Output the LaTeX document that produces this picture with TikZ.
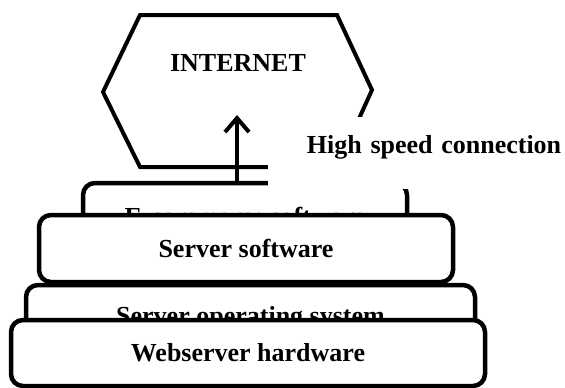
\documentclass[tikz,border=0pt]{standalone}
\usepackage{fontspec}
\setmainfont{Liberation Serif}
\usetikzlibrary{arrows.meta}
\begin{document}
\begin{tikzpicture}[x=1pt, y=-1pt,
		layer/.style={draw=black, fill=white, shape=rectangle, line width=4.5pt, rounded corners=12pt, inner sep=0pt},
		lbl/.style={text=black, font=\bfseries\fontsize{26}{30}\selectfont}]
	\useasboundingbox (0,0) rectangle (565,388);

	\draw[line width=4pt] (140,15) -- (337,15) -- (372,90) -- (337,167) -- (140,167) -- (103,92) -- cycle;
	\node[lbl] (inet) at (238,63) {INTERNET};
	\coordinate (tip) at (237,115);

	\node[layer, lbl, minimum width=324pt, minimum height=67pt] (l_4) at (245,216.5) {E-commerce software};
	\node[layer, lbl, minimum width=414pt, minimum height=67pt] (l_3) at (246,248.5) {Server software};
	\node[layer, lbl, minimum width=449pt, minimum height=67pt] (l_2) at (250.5,318.5) {Server operating system};
	\node[layer, lbl, minimum width=474pt, minimum height=66pt] (l_1) at (248,353) {Webserver hardware};

	\draw[line width=4pt, -{Straight Barb[length=14pt, width=24pt]}] (l_4.north -| tip) -- (tip);

	\node[lbl, fill=white, anchor=base west, text width=289pt, align=right, inner xsep=4pt, inner ysep=0pt, text height=36pt, text depth=36pt] (link) at (268,153) {High speed connection};
\end{tikzpicture}
\end{document}
